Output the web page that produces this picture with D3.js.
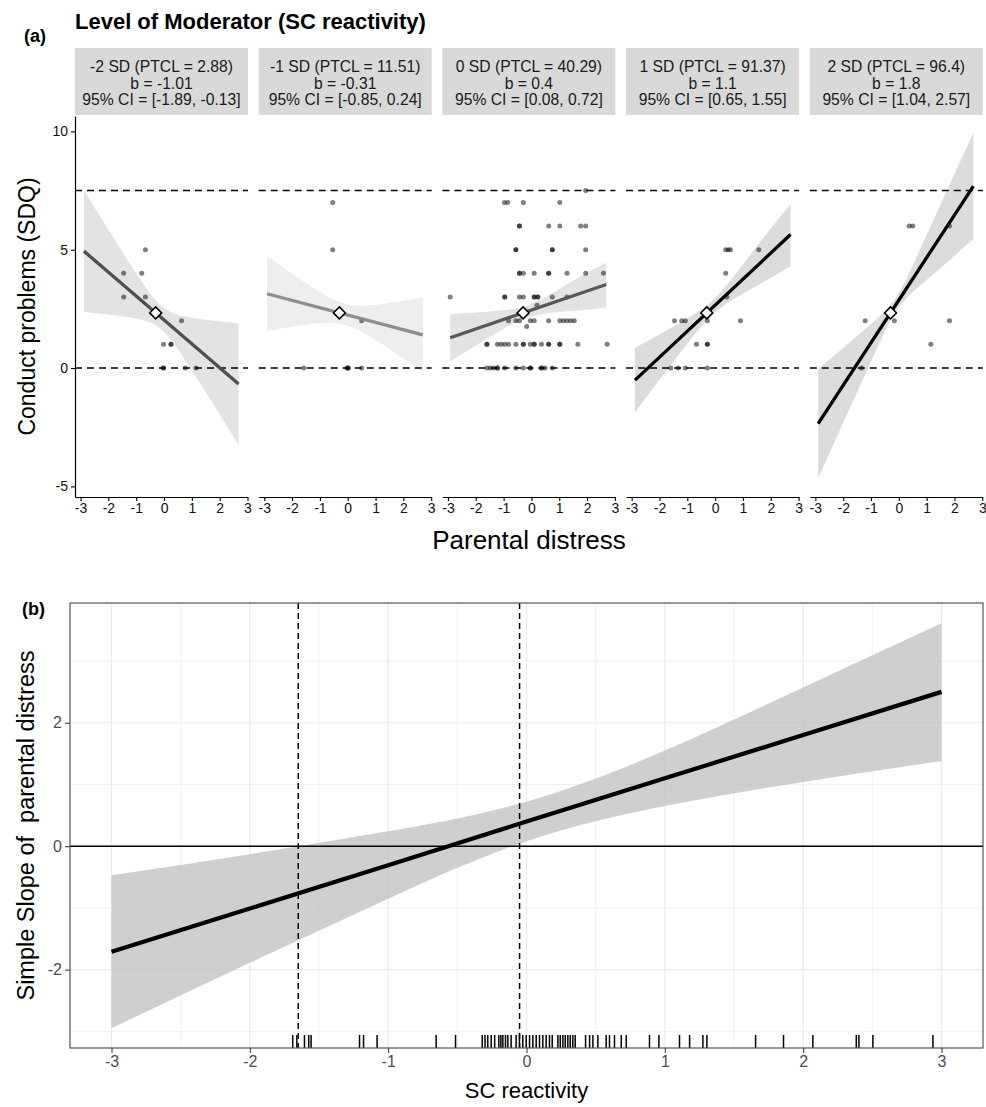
<!DOCTYPE html>
<html><head><meta charset="utf-8">
<script src="https://cdn.jsdelivr.net/npm/d3@7"></script>
<style>body{margin:0;background:#fff}svg{display:block;font-family:"Liberation Sans",Arial,Helvetica,sans-serif}</style>
</head><body><svg id="c" width="986" height="1107"></svg>
<script>
// ---------- DATA (panel a) ----------
const facetSD = ["-2 SD", "-1 SD", "0 SD", "1 SD", "2 SD"];
const facetPTCL = ["2.88", "11.51", "40.29", "91.37", "96.4"];
const facetB = ["-1.01", "-0.31", "0.4", "1.1", "1.8"];
const facetCILo = ["-1.89", "-0.85", "0.08", "0.65", "1.04"];
const facetCIHi = ["-0.13", "0.24", "0.72", "1.55", "2.57"];
const lineX0 = [-2.88, -2.9, -2.92, -2.88, -2.9];
const lineX1 = [2.68, 2.7, 2.69, 2.71, 2.68];
const lineY0 = [4.94, 3.14, 1.28, -0.51, -2.35];
const lineY1 = [-0.68, 1.40, 3.53, 5.64, 7.69];
const meanX = -0.3, meanY = 2.33;
const refLines = [0, 7.5];
const topXTicks = [-3, -2, -1, 0, 1, 2, 3];
const topYTicks = [-5, 0, 5, 10];
// ribbon rows: [x, lower, upper]
const ribbon1 = [[-2.88,2.37,7.51],[-2,2.26,5.84],[-1,2.09,3.99],[-0.1,1.63,2.63],[0.8,0.27,2.17],[1.8,-1.58,2.0],[2.68,-3.25,1.89]];
const ribbon2 = [[-2.9,1.56,4.72],[-2,1.74,3.98],[-1,1.89,3.21],[-0.1,1.82,2.72],[0.8,1.33,2.65],[1.8,0.56,2.8],[2.7,-0.18,2.98]];
const ribbon3 = [[-2.92,0.28,2.28],[-2,0.95,2.35],[-1,1.66,2.44],[-0.15,2.14,2.64],[0.8,2.35,3.19],[1.8,2.44,3.9],[2.69,2.56,4.45]];
const ribbon4 = [[-2.88,-1.88,0.86],[-2,-0.5,1.42],[-1,1.03,2.09],[-0.1,2.25,2.85],[0.8,3.01,4.07],[1.8,3.68,5.6],[2.71,4.3,6.92]];
const ribbon5 = [[-2.9,-4.66,-0.04],[-2,-2.31,0.85],[-1,0.28,1.86],[-0.1,2.39,2.99],[0.8,3.52,5.1],[1.8,4.53,7.69],[2.68,5.45,9.93]];
const points1 = [[-1.45,4],[-1.45,3],[-0.8,4],[-0.67,5],[-0.67,3],[0.63,2],[-0.02,1],[0.25,1],[0.25,1],[-0.02,0],[-0.02,0],[0.76,0],[1.15,0]];
const points2 = [[-0.54,7],[-0.54,5],[-1.58,0],[-0.03,0],[0.03,0],[0,0],[0.5,0],[0.5,2]];
const points3 = [[1.95,7.5],
 [-0.97,7],[-0.85,7],[-0.29,7],[1.02,7],
 [-0.43,6],[-0.43,6],[0.62,6],[1.02,6],[1.77,6],[1.95,6],
 [-0.56,5],[-0.56,5],[0.75,5],[0.75,5],[1.95,5],
 [-0.43,4],[-0.43,4],[-0.29,4],[0.1,4],[0.62,4],[0.62,4],[1.28,4],[1.95,4],[2.59,4],
 [-2.92,3],[-0.96,3],[-0.96,3],[-0.43,3],[-0.29,3],[0.1,3],[0.1,3],[0.23,3],[0.23,3],[0.75,3],[1.28,3],
 [0.2,2.65],[-0.17,1.75],
 [-0.82,2],[-0.56,2],[-0.43,2],[-0.04,2],[0.1,2],[0.62,2],[1.02,2],[1.15,2],[1.28,2],[1.41,2],[1.54,2],
 [-1.6,1],[-1.6,1],[-1.22,1],[-1.09,1],[-0.96,1],[-0.82,1],[-0.56,1],[-0.29,1],[-0.29,1],[-0.04,1],[0.1,1],[0.1,1],[0.36,1],[0.62,1],[0.62,1],[1.02,1],[1.02,1],[1.67,1],[2.72,1],
 [-1.6,0],[-1.48,0],[-1.35,0],[-1.22,0],[-1.22,0],[-0.96,0],[-0.56,0],[-0.29,0],[-0.04,0],[-0.04,0],[0.36,0],[0.36,0],[0.49,0],[0.75,0]];
const points4 = [[0.38,5],[0.47,5],[0.55,5],[1.57,5],[0.38,4],[0.42,3],[-1.46,2],[-1.2,2],[-1.07,2],[-0.28,2],[0.91,2],[-0.67,1],[-0.28,1],[-0.28,1],[-1.6,0],[-1.33,0],[-1.07,0],[-0.28,0]];
const points5 = [[0.37,6],[0.5,6],[1.82,6],[-1.21,2],[-0.16,2],[1.82,2],[1.15,1],[-1.34,0]];
const ribbons = [ribbon1, ribbon2, ribbon3, ribbon4, ribbon5];
const pointSets = [points1, points2, points3, points4, points5];

// ---------- DATA (panel b) ----------
const moderator = [-3, -2, -1, 0, 1, 2, 3];
const simpleSlope = [-1.71, -1.01, -0.31, 0.4, 1.1, 1.8, 2.5];
const slopeLo = [-2.95, -1.89, -0.85, 0.08, 0.65, 1.04, 1.38];
const slopeHi = [-0.47, -0.13, 0.24, 0.72, 1.55, 2.57, 3.61];
const jnPoints = [-1.65, -0.05];
const bXTicks = [-3, -2, -1, 0, 1, 2, 3];
const bYTicks = [-2, 0, 2];
const rug = [-1.69,-1.66,-1.605,-1.574,-1.557,-1.207,-1.178,-1.08,-0.653,-0.513,-0.32,-0.30,-0.28,-0.255,-0.23,-0.2,-0.185,
 -0.171,-0.152,-0.135,-0.111,-0.075,-0.051,-0.027,-0.002,0.022,0.046,0.070,0.094,0.118,0.142,0.166,0.186,
 0.227,0.244,0.263,0.28,0.299,0.316,0.335,0.352,0.427,0.456,0.48,0.516,0.576,0.6,0.636,0.685,0.721,
 0.889,0.957,1.106,1.179,1.275,1.304,1.656,1.858,2.07,2.384,2.403,2.504,2.938];

// ---------- STYLE ----------
const lineColors = ["#4f4f4f", "#8e8e8e", "#575757", "#000000", "#000000"];
const ribbonColors = ["#e3e3e3", "#eeeeee", "#e3e3e3", "#dcdcdc", "#dcdcdc"];

const svg = d3.select("#c");
const fmt = d => String(d);

// ---------- PANEL A ----------
svg.append("text").attr("x", 24).attr("y", 42).attr("font-size", 18).attr("font-weight", "bold").text("(a)");
svg.append("text").attr("x", 75).attr("y", 29).attr("font-size", 22).attr("font-weight", "bold").text("Level of Moderator (SC reactivity)");

const pTop = 116, pBot = 497, pW = 173, pStep = 183.7, pLeft0 = 75;
const yA = d3.scaleLinear().domain([-5.45, 10.65]).range([pBot, pTop]);

for (let i = 0; i < 5; i++) {
  const L = pLeft0 + i * pStep;
  const xA = d3.scaleLinear().domain([-3.2, 3.0]).range([L, L + pW - 0.5]);
  const g = svg.append("g");
  // strip
  g.append("rect").attr("x", L).attr("y", 48).attr("width", pW).attr("height", 67).attr("fill", "#d9d9d9");
  const lines = [`${facetSD[i]} (PTCL = ${facetPTCL[i]})`, `b = ${facetB[i]}`, `95% CI = [${facetCILo[i]}, ${facetCIHi[i]}]`];
  lines.forEach((t, k) => g.append("text").attr("x", L + pW / 2).attr("y", 72 + k * 16.5)
    .attr("text-anchor", "middle").attr("font-size", 15.7).attr("fill", "#1a1a1a").text(t));
  // ribbon
  const area = d3.area().x(d => xA(d[0])).y0(d => yA(d[1])).y1(d => yA(d[2])).curve(d3.curveNatural);
  g.append("path").attr("d", area(ribbons[i])).attr("fill", ribbonColors[i]);
  // dashed reference lines
  refLines.forEach(v => g.append("line").attr("x1", L).attr("x2", L + pW).attr("y1", yA(v)).attr("y2", yA(v))
    .attr("stroke", "#000").attr("stroke-width", 1.6).attr("stroke-dasharray", "7,5"));
  // points
  g.selectAll("circle.pt").data(pointSets[i]).join("circle").attr("class", "pt")
    .attr("cx", d => xA(d[0])).attr("cy", d => yA(d[1])).attr("r", 2.5)
    .attr("fill", "#000").attr("fill-opacity", 0.5);
  // regression line
  g.append("line").attr("x1", xA(lineX0[i])).attr("y1", yA(lineY0[i])).attr("x2", xA(lineX1[i])).attr("y2", yA(lineY1[i]))
    .attr("stroke", lineColors[i]).attr("stroke-width", 3.3);
  // diamond at mean
  const cx = xA(meanX), cy = yA(meanY), r = 6;
  g.append("path").attr("d", `M${cx},${cy - r}L${cx + r},${cy}L${cx},${cy + r}L${cx - r},${cy}Z`)
    .attr("fill", "#fff").attr("stroke", "#000").attr("stroke-width", 1.5);
  // x axis
  const ax = g.append("g").attr("transform", `translate(0,${pBot})`)
    .call(d3.axisBottom(xA).tickValues(topXTicks).tickFormat(fmt).tickSize(4).tickSizeOuter(0).tickPadding(2));
  ax.select(".domain").attr("stroke", "#000").attr("stroke-width", 1.2);
  ax.selectAll(".tick line").attr("stroke", "#000").attr("stroke-width", 1.1);
  ax.selectAll("text").attr("font-size", 14).attr("fill", "#111").attr("font-family", null);
}
{
  const ay = svg.append("g").attr("transform", `translate(${pLeft0},0)`)
    .call(d3.axisLeft(yA).tickValues(topYTicks).tickFormat(fmt).tickSize(4).tickSizeOuter(0).tickPadding(3));
  ay.select(".domain").attr("stroke", "#000").attr("stroke-width", 1.2);
  ay.selectAll(".tick line").attr("stroke", "#000").attr("stroke-width", 1.1);
  ay.selectAll("text").attr("font-size", 14).attr("fill", "#111").attr("font-family", null);
}
svg.append("text").attr("transform", `translate(35,${(pTop + pBot) / 2}) rotate(-90)`).attr("text-anchor", "middle")
  .attr("font-size", 23).text("Conduct problems (SDQ)");
svg.append("text").attr("x", 529).attr("y", 549).attr("text-anchor", "middle").attr("font-size", 26).text("Parental distress");

// ---------- PANEL B ----------
const bL = 70, bR = 983, bT = 603, bB = 1048;
const xB = d3.scaleLinear().domain([-3.3, 3.3]).range([bL, bR]);
const yB = d3.scaleLinear().domain([-3.27, 3.94]).range([bB, bT]);
svg.append("text").attr("x", 22).attr("y", 615).attr("font-size", 18).attr("font-weight", "bold").text("(b)");
const gb = svg.append("g");
// grid
d3.range(-3, 3.01, 0.5).forEach(v => gb.append("line").attr("x1", xB(v)).attr("x2", xB(v)).attr("y1", bT).attr("y2", bB)
  .attr("stroke", "#ebebeb").attr("stroke-width", Number.isInteger(v) ? 1.2 : 0.7));
d3.range(-3, 3.01, 1).forEach(v => gb.append("line").attr("x1", bL).attr("x2", bR).attr("y1", yB(v)).attr("y2", yB(v))
  .attr("stroke", "#ebebeb").attr("stroke-width", v % 2 === 0 ? 1.2 : 0.7));
// ribbon
const bandData = moderator.map((m, k) => ({ m, lo: slopeLo[k], hi: slopeHi[k], s: simpleSlope[k] }));
gb.append("path").attr("d", d3.area().x(d => xB(d.m)).y0(d => yB(d.lo)).y1(d => yB(d.hi)).curve(d3.curveNatural)(bandData))
  .attr("fill", "#bdbdbd").attr("fill-opacity", 0.72);
// zero line
gb.append("line").attr("x1", bL).attr("x2", bR).attr("y1", yB(0)).attr("y2", yB(0)).attr("stroke", "#000").attr("stroke-width", 1.5);
// JN lines
jnPoints.forEach(v => gb.append("line").attr("x1", xB(v)).attr("x2", xB(v)).attr("y1", bT).attr("y2", bB)
  .attr("stroke", "#000").attr("stroke-width", 1.5).attr("stroke-dasharray", "6,4"));
// slope line
gb.append("path").attr("d", d3.line().x(d => xB(d.m)).y(d => yB(d.s))(bandData)).attr("fill", "none")
  .attr("stroke", "#000").attr("stroke-width", 4.2);
// rug
gb.selectAll("line.rug").data(rug).join("line").attr("class", "rug")
  .attr("x1", d => xB(d)).attr("x2", d => xB(d)).attr("y1", bB - 13).attr("y2", bB)
  .attr("stroke", "#000").attr("stroke-width", 1.5);
// border
gb.append("rect").attr("x", bL).attr("y", bT).attr("width", bR - bL).attr("height", bB - bT)
  .attr("fill", "none").attr("stroke", "#555").attr("stroke-width", 1.2);
{
  const ax = svg.append("g").attr("transform", `translate(0,${bB})`)
    .call(d3.axisBottom(xB).tickValues(bXTicks).tickFormat(fmt).tickSize(5).tickSizeOuter(0).tickPadding(3));
  ax.select(".domain").remove();
  ax.selectAll(".tick line").attr("stroke", "#333");
  ax.selectAll("text").attr("font-size", 16).attr("fill", "#4d4d4d").attr("font-family", null);
  const ay = svg.append("g").attr("transform", `translate(${bL},0)`)
    .call(d3.axisLeft(yB).tickValues(bYTicks).tickFormat(fmt).tickSize(5).tickSizeOuter(0).tickPadding(3));
  ay.select(".domain").remove();
  ay.selectAll(".tick line").attr("stroke", "#333");
  ay.selectAll("text").attr("font-size", 16).attr("fill", "#4d4d4d").attr("font-family", null);
}
svg.append("text").attr("transform", `translate(34,${(bT + bB) / 2}) rotate(-90)`).attr("text-anchor", "middle")
  .attr("font-size", 23.5).text("Simple Slope of \u00a0parental distress");
svg.append("text").attr("x", (bL + bR) / 2).attr("y", 1098).attr("text-anchor", "middle").attr("font-size", 22).text("SC reactivity");
</script></body></html>
